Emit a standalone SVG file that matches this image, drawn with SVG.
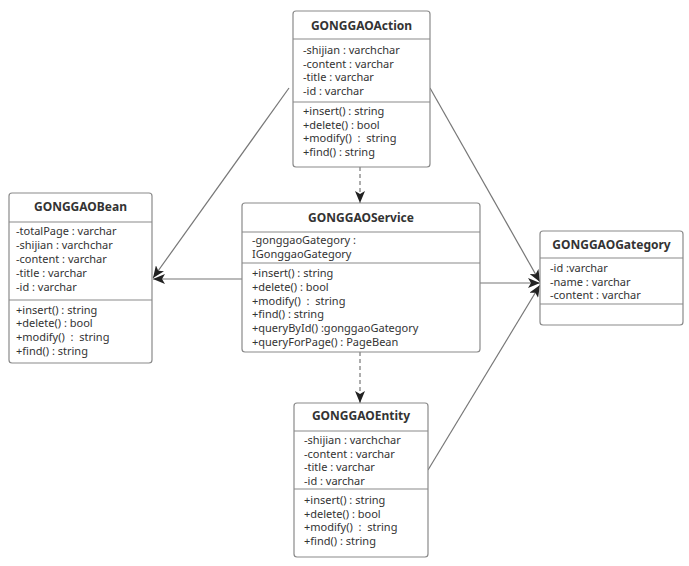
<svg xmlns="http://www.w3.org/2000/svg" width="689" height="566" viewBox="0 0 689 566">
<style>
.box{fill:#fff;stroke:#8a8a8a;stroke-width:1.2}
.div{stroke:#8a8a8a;stroke-width:1.2}
.t{font-family:"Noto Sans","Open Sans",sans-serif;font-size:11px;fill:#333;white-space:pre}
.h{font-family:"Noto Sans","Open Sans",sans-serif;font-size:12px;font-weight:bold;fill:#333;text-anchor:middle}
.c{stroke:#777;stroke-width:1.2;fill:none}
.d{stroke:#777;stroke-width:1.2;fill:none;stroke-dasharray:4,3}
</style>
<defs>
<marker id="a" viewBox="0 0 12 10" refX="12" refY="5" markerWidth="12" markerHeight="10" markerUnits="userSpaceOnUse" orient="auto">
<path d="M0,0 L12,5 L0,10 L3,5 z" fill="#222"/>
</marker>
</defs>
<rect width="689" height="566" fill="#fff"/>
<g id="connectors">
<line class="c" x1="289" y1="88" x2="153" y2="278" marker-end="url(#a)"/>
<line class="c" x1="242" y1="279" x2="153" y2="279" marker-end="url(#a)"/>
<line class="c" x1="430" y1="88" x2="540" y2="282" marker-end="url(#a)"/>
<line class="c" x1="480" y1="283" x2="540" y2="283" marker-end="url(#a)"/>
<line class="c" x1="428" y1="470" x2="540" y2="285" marker-end="url(#a)"/>
<line class="d" x1="360" y1="167" x2="360" y2="203" marker-end="url(#a)"/>
<line class="d" x1="360" y1="352" x2="360" y2="403" marker-end="url(#a)"/>
</g>
<g id="GONGGAOAction">
<rect class="box" x="293" y="11" width="137" height="156" rx="3"/>
<line class="div" x1="293" y1="39" x2="430" y2="39"/>
<line class="div" x1="293" y1="102" x2="430" y2="102"/>
<text class="h" x="361.5" y="30">GONGGAOAction</text>
<text class="t" x="303" y="54">-shijian : varchchar</text>
<text class="t" x="303" y="67.7">-content : varchar</text>
<text class="t" x="303" y="81.4">-title : varchar</text>
<text class="t" x="303" y="95.1">-id : varchar</text>
<text class="t" x="303" y="115">+insert() : string</text>
<text class="t" x="303" y="128.7">+delete() : bool</text>
<text class="t" x="303" y="142.4">+modify()  :  string</text>
<text class="t" x="303" y="156.1">+find() : string</text>
</g>
<g id="GONGGAOBean">
<rect class="box" x="9" y="193" width="143" height="170" rx="3"/>
<line class="div" x1="9" y1="222" x2="152" y2="222"/>
<line class="div" x1="9" y1="300" x2="152" y2="300"/>
<text class="h" x="80.5" y="211">GONGGAOBean</text>
<text class="t" x="16" y="234.5">-totalPage : varchar</text>
<text class="t" x="16" y="248.5">-shijian : varchchar</text>
<text class="t" x="16" y="262.5">-content : varchar</text>
<text class="t" x="16" y="276.5">-title : varchar</text>
<text class="t" x="16" y="290.5">-id : varchar</text>
<text class="t" x="16" y="313.5">+insert() : string</text>
<text class="t" x="16" y="327.2">+delete() : bool</text>
<text class="t" x="16" y="340.9">+modify()  :  string</text>
<text class="t" x="16" y="354.6">+find() : string</text>
</g>
<g id="GONGGAOService">
<rect class="box" x="242" y="203" width="238" height="149" rx="3"/>
<line class="div" x1="242" y1="232" x2="480" y2="232"/>
<line class="div" x1="242" y1="263" x2="480" y2="263"/>
<text class="h" x="361" y="222">GONGGAOService</text>
<text class="t" x="252" y="244">-gonggaoGategory :</text>
<text class="t" x="252" y="258">IGonggaoGategory</text>
<text class="t" x="252" y="277">+insert() : string</text>
<text class="t" x="252" y="290.8">+delete() : bool</text>
<text class="t" x="252" y="304.6">+modify()  :  string</text>
<text class="t" x="252" y="318.4">+find() : string</text>
<text class="t" x="252" y="332.2">+queryById() :gonggaoGategory</text>
<text class="t" x="252" y="346">+queryForPage() : PageBean</text>
</g>
<g id="GONGGAOGategory">
<rect class="box" x="540" y="231" width="143" height="94" rx="3"/>
<line class="div" x1="540" y1="258" x2="683" y2="258"/>
<line class="div" x1="540" y1="304" x2="683" y2="304"/>
<text class="h" x="611.5" y="249">GONGGAOGategory</text>
<text class="t" x="550" y="272">-id :varchar</text>
<text class="t" x="550" y="285.7">-name : varchar</text>
<text class="t" x="550" y="299.4">-content : varchar</text>
</g>
<g id="GONGGAOEntity">
<rect class="box" x="294" y="403" width="134" height="154" rx="3"/>
<line class="div" x1="294" y1="431" x2="428" y2="431"/>
<line class="div" x1="294" y1="489" x2="428" y2="489"/>
<text class="h" x="361" y="420">GONGGAOEntity</text>
<text class="t" x="304" y="444">-shijian : varchchar</text>
<text class="t" x="304" y="457.7">-content : varchar</text>
<text class="t" x="304" y="471.4">-title : varchar</text>
<text class="t" x="304" y="485.1">-id : varchar</text>
<text class="t" x="304" y="504">+insert() : string</text>
<text class="t" x="304" y="517.7">+delete() : bool</text>
<text class="t" x="304" y="531.4">+modify()  :  string</text>
<text class="t" x="304" y="545.1">+find() : string</text>
</g>
</svg>
